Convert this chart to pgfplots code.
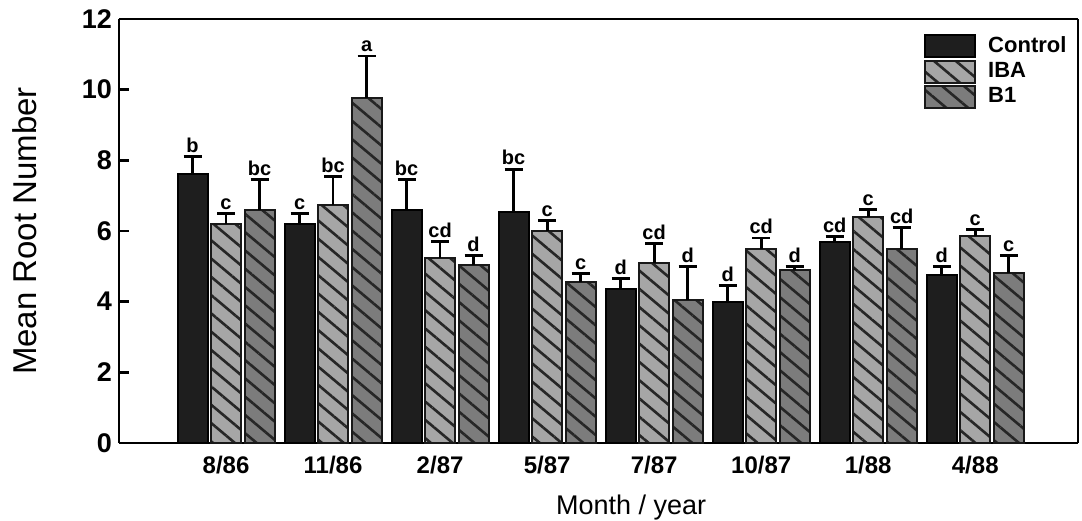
\documentclass[border=0pt]{standalone}
\usepackage{pgfplots}
\pgfplotsset{compat=1.18}
\usepackage{pgfplotstable}
\usepackage{fontspec}
\setmainfont{Liberation Sans}
\usetikzlibrary{patterns.meta}

\definecolor{ctrl}{HTML}{1E1E1E}
\definecolor{iba}{HTML}{A6A6A6}
\definecolor{bone}{HTML}{7C7C7C}

\pgfplotstableread{
x y err lab
0 7.6 0.5 b
1 6.2 0.3 c
2 6.6 0.85 bc
3 6.55 1.2 bc
4 4.35 0.3 d
5 4.0 0.45 d
6 5.7 0.15 cd
7 4.75 0.25 d
}\ctrltab
\pgfplotstableread{
x y err lab
0 6.2 0.3 c
1 6.75 0.8 bc
2 5.25 0.45 cd
3 6.0 0.3 c
4 5.1 0.55 cd
5 5.5 0.3 cd
6 6.4 0.2 c
7 5.85 0.2 c
}\ibatab
\pgfplotstableread{
x y err lab
0 6.6 0.85 bc
1 9.75 1.2 a
2 5.05 0.25 d
3 4.55 0.25 c
4 4.05 0.95 d
5 4.9 0.1 d
6 5.5 0.6 cd
7 4.8 0.5 c
}\bonetab

\begin{document}
\begin{tikzpicture}
\path[use as bounding box] (-59.5pt,-38.5pt) rectangle (481.5pt,221.5pt);
\begin{axis}[
  scale only axis,
  width=479.5pt, height=212pt,
  xmin=-1, xmax=7.96,
  ymin=0, ymax=12,
  ybar=1.75pt, bar width=15pt,
  xtick={0,...,7},
  xticklabels={8/86,11/86,2/87,5/87,7/87,10/87,1/88,4/88},
  x tick style={draw=none},
  xticklabel style={font=\fontsize{12}{14}\selectfont\bfseries, yshift=-3pt},
  ytick={0,2,...,12},
  ytick pos=left,
  tick align=inside,
  major tick length=5pt,
  y tick style={line width=1.2pt, black},
  yticklabel style={font=\fontsize{13.5}{16}\selectfont\bfseries},
  /pgf/number format/assume math mode=true,
  separate axis lines,
  axis line style={line width=1.3pt},
  ylabel={Mean Root Number},
  ylabel style={at={(axis description cs:-0.098,0.5)}, anchor=center, font=\fontsize{16.5}{19}\selectfont},
  xlabel={Month / year},
  xlabel style={at={(axis description cs:0.534,-0.151)}, anchor=center, font=\fontsize{13.5}{16}\selectfont},
  error bars/y dir=plus,
  error bars/y explicit,
  error bars/error bar style={line width=1.4pt, black},
  error bars/error mark options={rotate=90, mark size=4.5pt, line width=1.4pt, black},
  nodes near coords,
  point meta=explicit symbolic,
  visualization depends on={\thisrow{err}\as\myerr},
  every node near coord/.append style={shift={(axis direction cs:0,\myerr)}, font=\fontsize{10}{11}\selectfont\bfseries, anchor=south, inner sep=1.5pt, black},
  legend cell align=left,
  legend style={at={(rel axis cs:0.833,0.978)}, anchor=north west, draw=none, fill=none,
    font=\fontsize{11}{13}\selectfont\bfseries, row sep=-0.5pt,
    /tikz/every odd column/.append style={column sep=4pt}},
  legend image code/.code={\draw[#1] (0pt,-5.5pt) rectangle (25pt,5.5pt);},
]
\addplot[fill=ctrl, draw=black, line width=1pt] table[x=x,y=y,y error=err,meta=lab]{\ctrltab};
\addplot[fill=iba, draw=black!90, line width=1pt,
  postaction={pattern={Lines[angle=-40,distance=7pt,line width=1.3pt]}, pattern color=black!85}]
  table[x=x,y=y,y error=err,meta=lab]{\ibatab};
\addplot[fill=bone, draw=black!90, line width=1pt,
  postaction={pattern={Lines[angle=-40,distance=7pt,line width=1.3pt]}, pattern color=black!85}]
  table[x=x,y=y,y error=err,meta=lab]{\bonetab};
\legend{Control,IBA,B1}
\end{axis}
\end{tikzpicture}
\end{document}
